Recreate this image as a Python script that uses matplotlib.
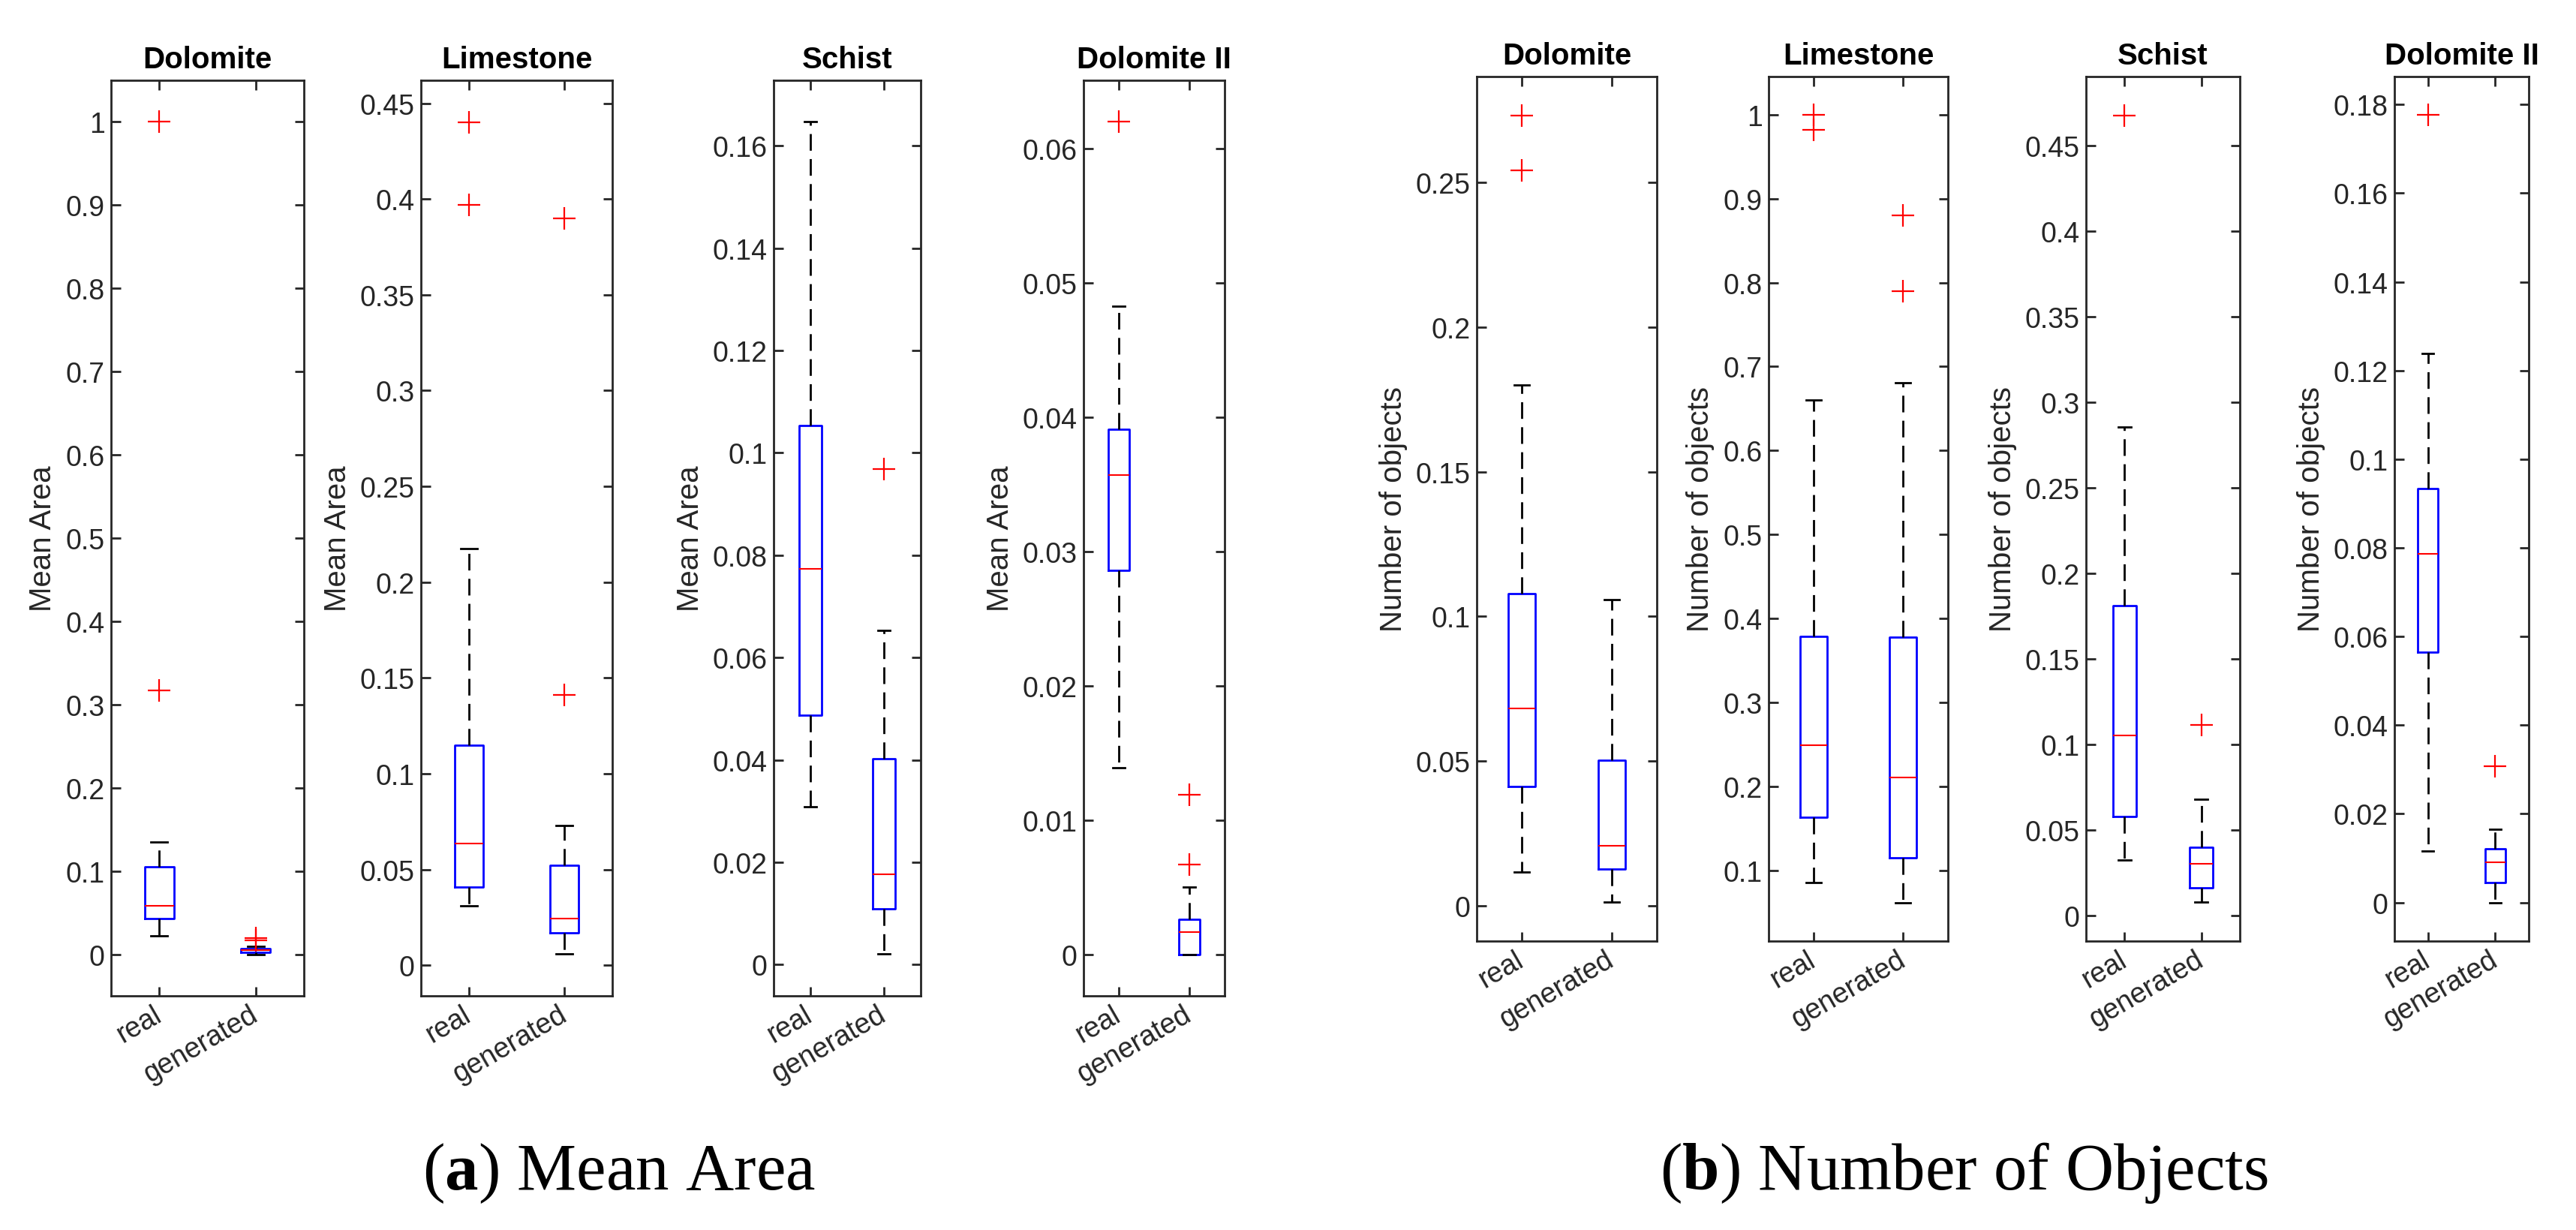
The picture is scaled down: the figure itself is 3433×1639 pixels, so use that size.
import numpy as np
import matplotlib
matplotlib.use("Agg")
import matplotlib.pyplot as plt
from matplotlib.ticker import MultipleLocator, FormatStrFormatter

plt.rcParams['font.family'] = ['Liberation Sans', 'DejaVu Sans']
plt.rcParams['mathtext.fontset'] = 'custom'
plt.rcParams['mathtext.rm'] = 'Liberation Serif'
plt.rcParams['mathtext.bf'] = 'Liberation Serif:bold'

# ---- data ----
rocks = ["Dolomite", "Limestone", "Schist", "Dolomite II"]
groups = ["real", "generated"]

# box stats per rock, order: whislo, q1, med, q3, whishi
area_real = [
    [0.0217, 0.0427, 0.058, 0.1047, 0.1345],
    [0.0311, 0.0409, 0.0636, 0.115, 0.2175],
    [0.0308, 0.0487, 0.0774, 0.1053, 0.1647],
    [0.0139, 0.0286, 0.0357, 0.0391, 0.0483],
]
area_real_out = [[1.0, 0.317], [0.440, 0.397], [], [0.062]]
area_gen = [
    [0.0, 0.002, 0.005, 0.0068, 0.0095],
    [0.0059, 0.0171, 0.0245, 0.0521, 0.0731],
    [0.0021, 0.0109, 0.0176, 0.0402, 0.0653],
    [0.0, 0.0, 0.00165, 0.0026, 0.005],
]
area_gen_out = [[0.019, 0.0165], [0.390, 0.1413], [0.0968], [0.0119, 0.0067]]

count_real = [
    [0.0116, 0.0412, 0.0683, 0.1079, 0.1799],
    [0.0856, 0.163, 0.2492, 0.3784, 0.660],
    [0.0321, 0.0576, 0.1049, 0.1809, 0.2854],
    [0.0116, 0.0565, 0.0786, 0.0934, 0.1239],
]
count_real_out = [[0.2731, 0.2542], [1.0, 0.9816], [0.4675], [0.1776]]
count_gen = [
    [0.0012, 0.0127, 0.0208, 0.0502, 0.1058],
    [0.0617, 0.1152, 0.2109, 0.378, 0.681],
    [0.0078, 0.0161, 0.0301, 0.0399, 0.0677],
    [0.0, 0.0045, 0.0091, 0.0121, 0.0166],
]
count_gen_out = [[], [0.880, 0.790], [0.1112], [0.0307]]

area_ylim = [(-0.05, 1.05), (-0.016, 0.462), (-0.0061, 0.1728), (-0.0031, 0.0651)]
area_step = [0.1, 0.05, 0.02, 0.01]
count_ylim = [(-0.0122, 0.2866), (0.0157, 1.0455), (-0.0151, 0.4903), (-0.0087, 0.1863)]
count_step = [0.05, 0.1, 0.05, 0.02]

# ---- layout (figure fractions) ----
area_pos = [
    [0.04311, 0.19024, 0.07486, 0.74390],
    [0.16341, 0.19024, 0.07428, 0.74390],
    [0.30032, 0.19024, 0.05709, 0.74390],
    [0.42062, 0.19024, 0.05476, 0.74390],
]
count_pos = [
    [0.57326, 0.23476, 0.06991, 0.70244],
    [0.68657, 0.23476, 0.06962, 0.70244],
    [0.80979, 0.23476, 0.05971, 0.70244],
    [0.92951, 0.23476, 0.05214, 0.70244],
]

dark = "#262626"


def make_stats(vals, out, label):
    lo, q1, med, q3, hi = vals
    return dict(whislo=lo, q1=q1, med=med, q3=q3, whishi=hi,
                fliers=np.array(out), label=label)


def draw_panel(ax, title, ylabel, real, real_out, gen, gen_out, ylim, step):
    stats = [make_stats(real, real_out, groups[0]),
             make_stats(gen, gen_out, groups[1])]
    ax.bxp(stats, positions=[1, 2], widths=0.3, capwidths=0.17,
           boxprops=dict(color="blue", lw=2),
           medianprops=dict(color="red", lw=1.5),
           whiskerprops=dict(color="black", lw=2, linestyle=(0, (8, 4))),
           capprops=dict(color="black", lw=2),
           flierprops=dict(marker="+", markeredgecolor="red", markersize=22,
                           markeredgewidth=1.6, linestyle="none"))
    ax.set_xlim(0.5, 2.5)
    ax.set_ylim(*ylim)
    ax.yaxis.set_major_locator(MultipleLocator(step))
    ax.yaxis.set_major_formatter(FormatStrFormatter("%g"))
    ax.tick_params(direction="in", length=9, width=2, colors=dark,
                   labelsize=27, top=True, right=True, pad=6)
    ax.set_xticks([1, 2])
    ax.set_xticklabels(groups, rotation=30, ha="right", va="center",
                       rotation_mode="anchor")
    ax.tick_params(axis="x", pad=16)
    for s in ax.spines.values():
        s.set_linewidth(2)
        s.set_color(dark)
    ax.set_title(title, fontsize=29, fontweight="bold", pad=12)
    ax.set_ylabel(ylabel, fontsize=29, color=dark, labelpad=8)


fig = plt.figure(figsize=(34.33, 16.4), dpi=100)

for i, rock in enumerate(rocks):
    ax = fig.add_axes(area_pos[i])
    draw_panel(ax, rock, "Mean Area", area_real[i], area_real_out[i],
               area_gen[i], area_gen_out[i], area_ylim[i], area_step[i])

for i, rock in enumerate(rocks):
    ax = fig.add_axes(count_pos[i])
    draw_panel(ax, rock, "Number of objects", count_real[i], count_real_out[i],
               count_gen[i], count_gen_out[i], count_ylim[i], count_step[i])

fig.text(0.2403, 0.0335, r"($\mathbf{a}$) Mean Area", fontsize=64,
         family="Liberation Serif", ha="center", va="baseline")
fig.text(0.7623, 0.0335, r"($\mathbf{b}$) Number of Objects", fontsize=64,
         family="Liberation Serif", ha="center", va="baseline")

fig.savefig("out.png", dpi=100, facecolor="white")
